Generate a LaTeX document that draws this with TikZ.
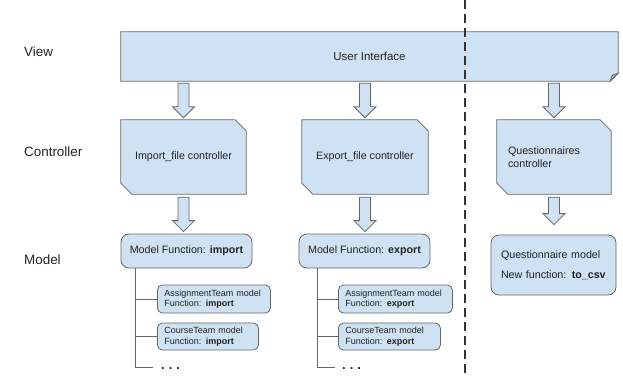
\documentclass[tikz,border=0pt]{standalone}
\usepackage{fontspec}
\setmainfont{Liberation Sans}
\usetikzlibrary{calc,backgrounds}
\definecolor{boxfill}{HTML}{CFE2F3}
\definecolor{boxline}{HTML}{666666}
\definecolor{txt}{HTML}{222222}
\definecolor{dashcol}{HTML}{333333}
\newcommand\snipshape[1]{\draw[blk] (#1.north west) -- ([xshift=-11pt]#1.north east) -- ([yshift=-11pt]#1.north east) -- (#1.south east) -- ([xshift=11pt]#1.south west) -- ([yshift=11pt]#1.south west) -- cycle;}
\newcommand\blockarrow[2]{\draw[blk] let \p1=(#1), \p2=(#2) in (\x1-5.5pt,\y1) -- (\x1+5.5pt,\y1) -- (\x1+5.5pt,\y2+11pt) -- (\x1+11pt,\y2+11pt) -- (\x1,\y2) -- (\x1-11pt,\y2+11pt) -- (\x1-5.5pt,\y2+11pt) -- cycle;}
\begin{document}
\begin{tikzpicture}[x=1pt,y=-1pt, font=\fontsize{10.7}{13}\selectfont, text=txt,
  lbl/.style={anchor=west, inner sep=0pt, font=\fontsize{13.4}{16}\selectfont},
  ctrl/.style={inner sep=0pt, align=center},
  model/.style={draw=boxline, fill=boxfill, rounded corners=8pt, line width=0.8pt},
  sub/.style={draw=boxline, fill=boxfill, rounded corners=5pt, line width=0.8pt, anchor=west, align=left, inner xsep=7pt, inner ysep=0pt, font=\fontsize{9}{10.5}\selectfont, minimum height=28pt},
  blk/.style={draw=boxline, fill=boxfill, line width=0.8pt, line join=miter},
  tree/.style={draw=boxline, line width=0.8pt},
  dots/.style={anchor=base west, inner sep=0pt, font=\fontsize{13}{15}\selectfont\bfseries},
  divider/.style={draw=dashcol, line width=1.4pt, dash pattern=on 9pt off 5pt}
]
\useasboundingbox (0,0) rectangle (623,377);

% row labels
\node[lbl] (lv) at (24,52) {View};
\node[lbl] (lc) at (24,152) {Controller};
\node[lbl] (lm) at (24,260) {Model};

% view
\node[minimum width=497pt, minimum height=49pt, inner sep=0pt] (ui) at (369.5,56.5) {\fontsize{11.5}{14}\selectfont User Interface};

% controllers
\node[ctrl, minimum width=125pt, minimum height=74pt] (c1) at (183.5,157) {Import\_file controller};
\node[ctrl, minimum width=126pt, minimum height=74pt] (c2) at (365,157) {Export\_file controller};
\node[ctrl, minimum width=114pt, minimum height=74pt, text width=92pt, align=left] (c3) at (554,157) {Questionnaires\\controller};

\begin{scope}[on background layer]
  \draw[blk] (ui.north west) -- (ui.north east) -- ([yshift=8pt]ui.south east) -- ([xshift=-8pt]ui.south east) -- (ui.south west) -- cycle;
  \snipshape{c1}
  \snipshape{c2}
  \snipshape{c3}
\end{scope}
\draw[blk, fill=boxfill!60!boxline] ([yshift=8pt]ui.south east) -- ([xshift=-8pt]ui.south east) -- ([xshift=-6pt,yshift=6pt]ui.south east) -- cycle;

% models
\node[model, minimum width=131pt, minimum height=34pt] (m1) at (186.5,251) {Model Function: \textbf{import}};
\node[model, minimum width=131pt, minimum height=34pt] (m2) at (364.5,251) {Model Function: \textbf{export}};
\node[model, minimum width=125pt, minimum height=60pt, text width=105pt, align=left, inner xsep=10pt] (m3) at (553.5,265) {Questionnaire model\\[7pt]New function: \textbf{to\_csv}};

% sub models
\node[sub, text width=99pt] (a1) at (157,299) {AssignmentTeam~model\\Function: \textbf{import}};
\node[sub, text width=87pt, minimum height=27pt] (b1) at (157,336.5) {CourseTeam~model\\Function: \textbf{import}};
\node[sub, text width=100pt] (a2) at (338,299) {AssignmentTeam~model\\Function: \textbf{export}};
\node[sub, text width=88pt, minimum height=27pt] (b2) at (338,336.5) {CourseTeam~model\\Function: \textbf{export}};

% trees
\coordinate (t1) at ([xshift=15pt]m1.south west);
\coordinate (e1) at (153,367);
\node[dots] (d1) at (161,369) {.\hspace{4pt}.\hspace{4pt}.};
\draw[tree] (t1) |- (a1.west);
\draw[tree] (t1) |- (b1.west);
\draw[tree] (t1) |- (e1);

\coordinate (t2) at ([xshift=19pt]m2.south west);
\coordinate (e2) at (335,367);
\node[dots] (d2) at (342,369) {.\hspace{4pt}.\hspace{4pt}.};
\draw[tree] (t2) |- (a2.west);
\draw[tree] (t2) |- (b2.west);
\draw[tree] (t2) |- (e2);

% block arrows
\blockarrow{$(ui.south -| c1.north)+(0,2)$}{$(c1.north)+(0,-2)$}
\blockarrow{$(ui.south -| c2.north)+(0,2)$}{$(c2.north)+(0,-2)$}
\blockarrow{$(ui.south -| c3.north)+(0,2)$}{$(c3.north)+(0,-2)$}
\blockarrow{$(c1.south)+(0,3)$}{$(m1.north -| c1.south)+(0,-2)$}
\blockarrow{$(c2.south)+(0,3)$}{$(m2.north -| c2.south)+(0,-2)$}
\blockarrow{$(c3.south)+(0,3)$}{$(m3.north -| c3.south)+(0,-10)$}

% divider
\coordinate (dt) at (465,0);
\coordinate (db) at (465,377);
\draw[divider] (dt) -- (db);
\end{tikzpicture}
\end{document}
